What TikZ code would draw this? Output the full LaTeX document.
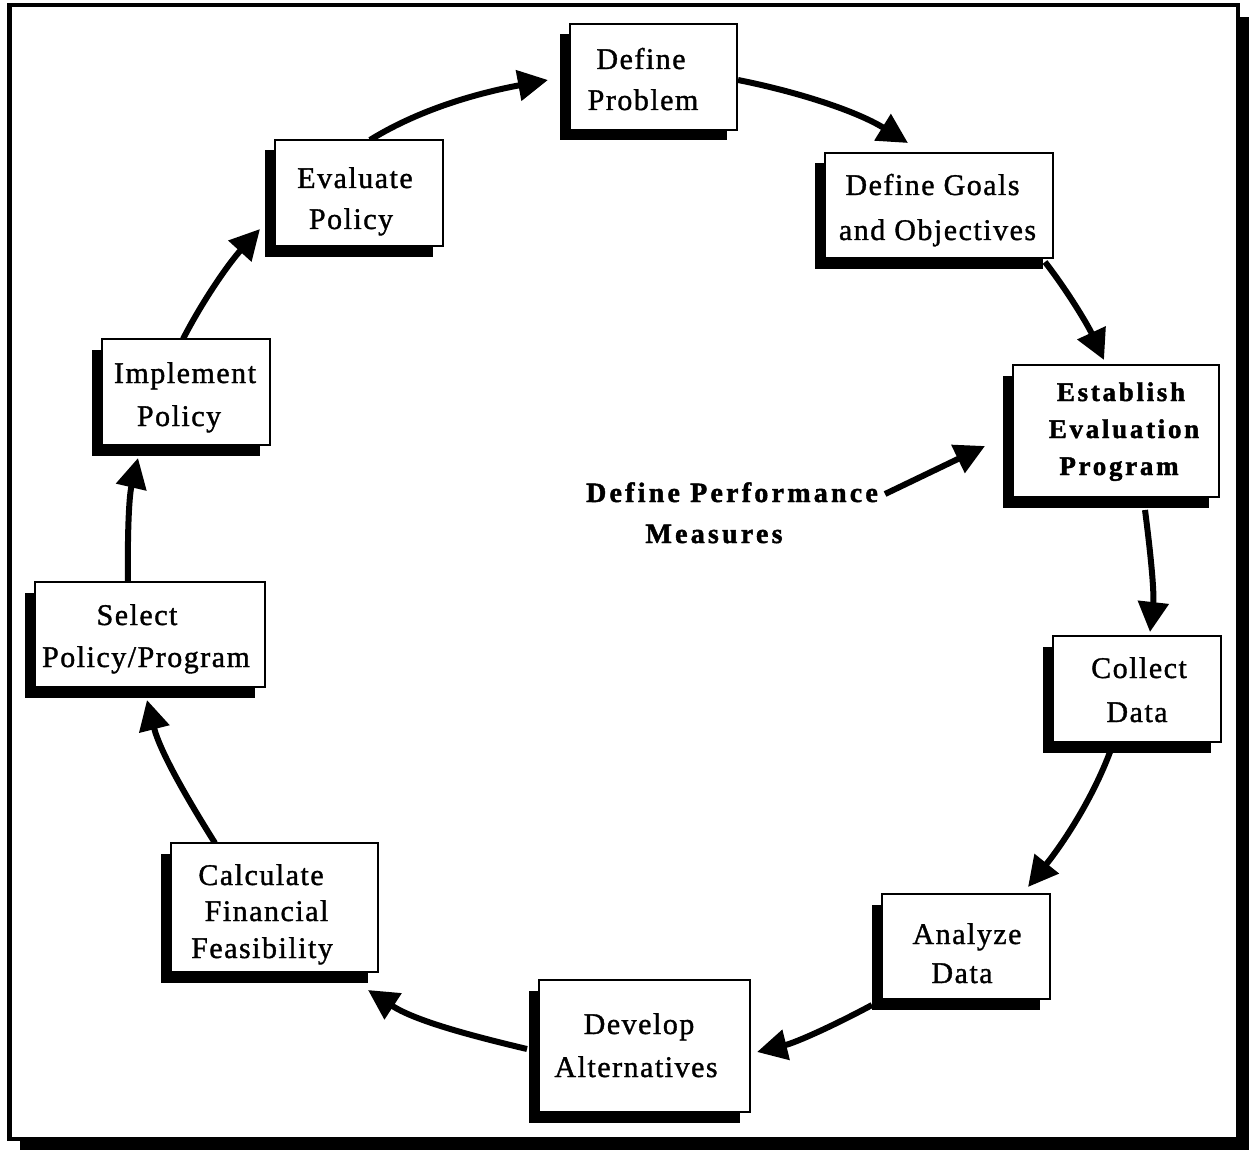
\documentclass[tikz,border=0pt]{standalone}
\usepackage{fontspec}
\setmainfont{Liberation Serif}
\newfontfamily\boxfont[LetterSpace=5,FakeBold=1.2]{Liberation Serif}
\newfontfamily\eepfont[LetterSpace=10,FakeBold=1.6]{Liberation Serif}
\newfontfamily\dpmfont[LetterSpace=11.5,FakeBold=1.6]{Liberation Serif}
\usetikzlibrary{arrows.meta,shadows,calc,backgrounds}
\tikzset{
  stage/.style={draw=black, line width=1.5pt, fill=white, outer sep=0pt, inner sep=0pt,
    drop shadow={shadow xshift=-10.5pt, shadow yshift=-10.5pt, fill=black, opacity=1}},
  lbl/.style={anchor=base, inner sep=0pt, font=\boxfont\fontsize{30}{34}\selectfont},
  lblb/.style={anchor=base, inner sep=0pt, font=\eepfont\bfseries\fontsize{27}{30}\selectfont},
  lbld/.style={anchor=base, inner sep=0pt, font=\dpmfont\bfseries\fontsize{28}{31}\selectfont},
  flow/.style={line width=6pt, -{Triangle[length=30pt,width=30pt]}},
}
\begin{document}
\begin{tikzpicture}[x=1pt,y=-1pt]
\useasboundingbox (0,0) rectangle (1249,1150);
\begin{pgfonlayer}{background}
  \fill[black] (20,17) rectangle (1249,1150);
  \draw[line width=4.5pt, fill=white] (9.5,5) rectangle (1238,1139);
\end{pgfonlayer}

% boxes
\node[stage, minimum width=167pt, minimum height=106pt] (dp)  at (653.5,77)   {};
\node[stage, minimum width=228pt, minimum height=105pt] (dg)  at (939,205.5)  {};
\node[stage, minimum width=206pt, minimum height=132pt] (eep) at (1116,431)   {};
\node[stage, minimum width=168pt, minimum height=106pt] (cd)  at (1137,689)   {};
\node[stage, minimum width=168pt, minimum height=105pt] (ad)  at (966,946.5)  {};
\node[stage, minimum width=211pt, minimum height=132pt] (da)  at (644.5,1046) {};
\node[stage, minimum width=207pt, minimum height=129pt] (cff) at (274.5,907.5){};
\node[stage, minimum width=230pt, minimum height=105pt] (spp) at (150,634.5)  {};
\node[stage, minimum width=168pt, minimum height=106pt] (ip)  at (186,392)    {};
\node[stage, minimum width=168pt, minimum height=106pt] (ep)  at (359,193)    {};

% labels
\node[lbl] (dp1) at (641,69) {Define};
\node[lbl] (dp2) at (643,110) {Problem};
\node[lbl] (dg1) at (932.5,195) {Define Goals};
\node[lbl] (dg2) at (937.5,240) {and Objectives};
\node[lblb] (eep1) at (1121,401) {Establish};
\node[lblb] (eep2) at (1124,438) {Evaluation};
\node[lblb] (eep3) at (1119,475) {Program};
\node[lbl] (cd1) at (1139,678) {Collect};
\node[lbl] (cd2) at (1137,722) {Data};
\node[lbl] (ad1) at (967,944) {Analyze};
\node[lbl] (ad2) at (962,983) {Data};
\node[lbl] (da1) at (639,1034) {Develop};
\node[lbl] (da2) at (636,1077) {Alternatives};
\node[lbl] (cff1) at (261,885) {Calculate};
\node[lbl] (cff2) at (266.5,921) {Financial};
\node[lbl] (cff3) at (262,958) {Feasibility};
\node[lbl] (spp1) at (137,625) {Select};
\node[lbl] (spp2) at (146,667) {Policy/Program};
\node[lbl] (ip1) at (185,383) {Implement};
\node[lbl] (ip2) at (179,426) {Policy};
\node[lbl] (ep1) at (355,188) {Evaluate};
\node[lbl] (ep2) at (351,229) {Policy};
\node[lbld] (dpm1) at (732,502) {Define Performance};
\node[lbld] (dpm2) at (714,543) {Measures};

% connectors
\begin{pgfonlayer}{background}
\draw[flow] ($(dp.east)+(1,3)$) .. controls +(59.5,11.8) and +(-51.6,-32) .. ($(dg.north)+(-31,-10)$);
\draw[flow] ($(dg.south east)+(-8,4)$) .. controls +(23.3,30.1) and +(-16,-34.6) .. ($(eep.north)+(-12,-5)$);
\draw[flow] ($(eep.south)+(29,13)$) .. controls +(5.2,40.4) and +(4.5,-40.5) .. ($(cd.north)+(13,-4)$);
\draw[flow] ($(cd.south)+(-27,10)$) .. controls +(-18.7,49.6) and +(33.2,-41.3) .. ($(ad.north)+(62,-7)$);
\draw[flow] ($(ad.south west)+(-10,6)$) .. controls +(-36.3,19.5) and +(40,-9.8) .. ($(da.east)+(7,6)$);
\draw[flow] ($(da.west)+(-12,3)$) .. controls +(-55.1,-13.1) and +(47.4,31) .. ($(cff.south east)+(-10,18)$);
\draw[flow] ($(cff.north)+(-59.5,0)$) .. controls +(-28.2,-44.9) and +(13,51.4) .. ($(spp.south)+(-3,13)$);
\draw[flow] ($(spp.north)+(-22,0)$) .. controls +(-0.6,-41.5) and +(-9.4,40.4) .. ($(ip.south)+(-48,13)$);
\draw[flow] ($(ip.north)+(-3,0)$) .. controls +(20.8,-40.3) and +(-30.5,33.5) .. ($(ep.west)+(-15,36)$);
\draw[flow] ($(ep.north)+(11,0)$) .. controls +(53.7,-33.3) and +(-62.1,11.5) .. ($(dp.west)+(-22,3)$);
\draw[flow] ($(dpm1.base east)+(7,-8)$) -- ($(eep.west)+(-28,15)$);
\end{pgfonlayer}
\end{tikzpicture}
\end{document}
